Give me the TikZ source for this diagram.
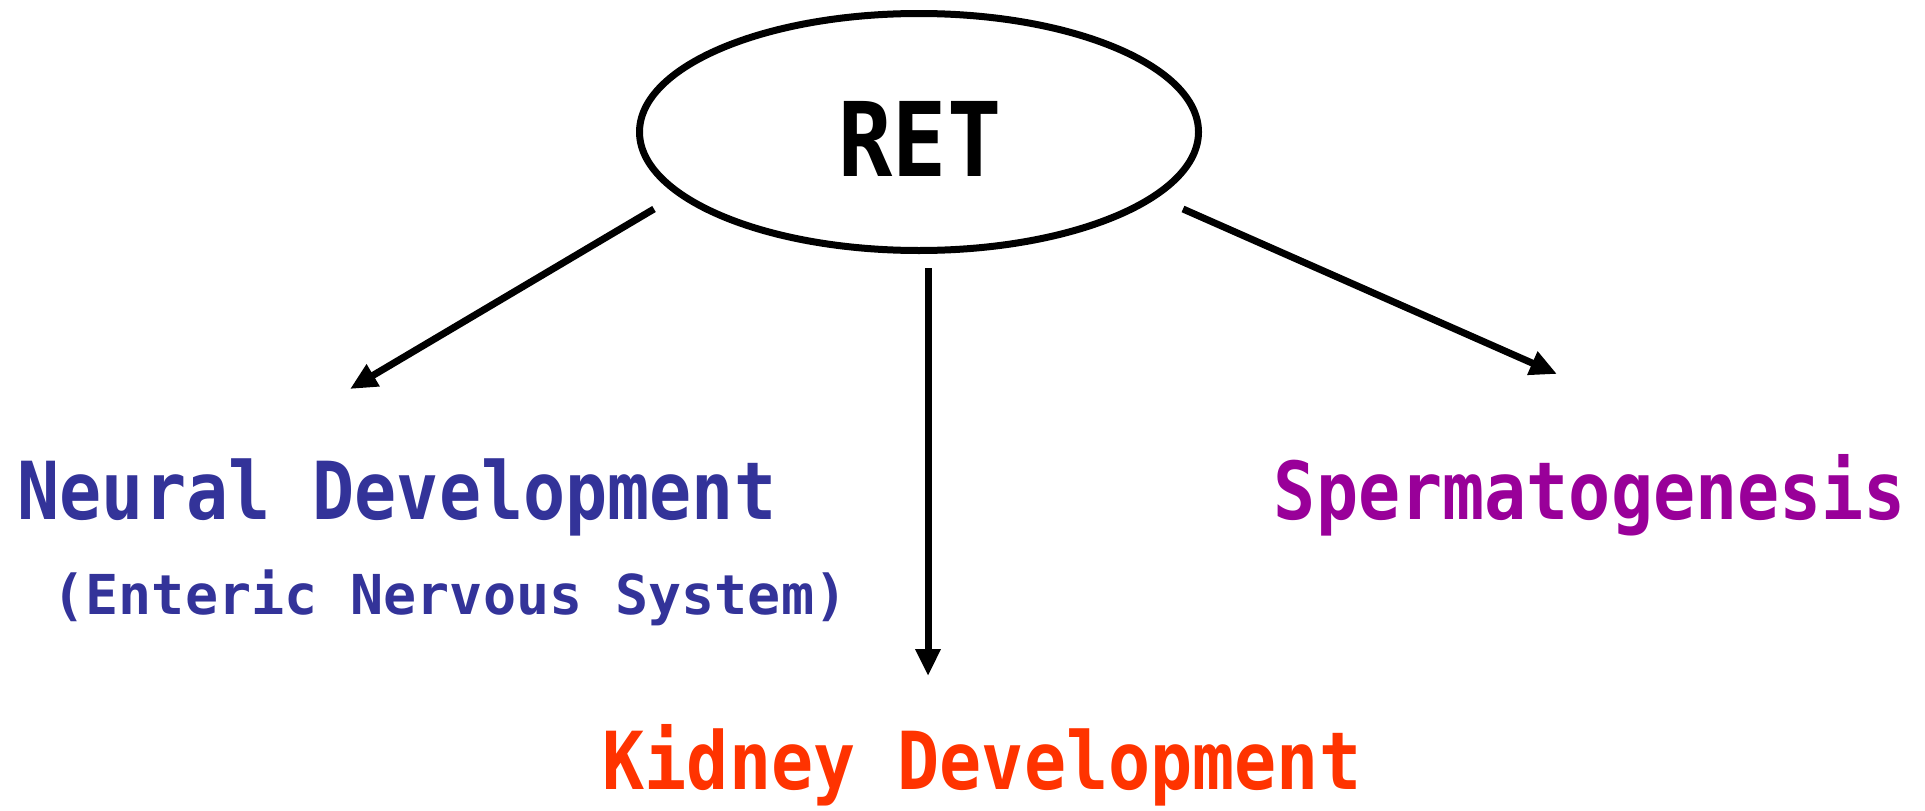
\documentclass[tikz,border=0pt]{standalone}
\usepackage{fontspec}
\usetikzlibrary{shapes.geometric,arrows.meta}
\newfontfamily\labfont[FakeStretch=0.875]{DejaVu Sans Mono}
\newfontfamily\subfont{DejaVu Sans Mono}
\definecolor{neuralblue}{HTML}{333399}
\definecolor{spermpurple}{HTML}{990099}
\definecolor{kidneyred}{HTML}{FF3300}
\begin{document}
\begin{tikzpicture}[x=1pt,y=-1pt,
  conn/.style={line width=7pt,-{Triangle[length=27pt,width=24pt]}},
  bigtxt/.style={font=\labfont\bfseries\fontsize{80}{80}\selectfont,inner sep=0pt,anchor=base},
  smalltxt/.style={font=\subfont\bfseries\fontsize{55}{55}\selectfont,inner sep=0pt,anchor=base}]
\useasboundingbox[fill=white] (0,0) rectangle (1925,811);
\node[ellipse,draw,line width=7pt,minimum width=559pt,minimum height=237pt,inner sep=0pt] (ret) at (919,132) {};
\node[font=\labfont\bfseries\fontsize{103}{103}\selectfont,inner sep=0pt,anchor=base] (rettxt) at (920,176) {RET};
\node[bigtxt,text=neuralblue] (neural) at (397,519) {Neural Development};
\node[smalltxt,text=neuralblue] (ens) at (450,614) {(Enteric Nervous System)};
\node[bigtxt,text=spermpurple] (sperm) at (1590,519) {Spermatogenesis};
\node[bigtxt,text=kidneyred] (kidney) at (982,789) {Kidney Development};
\coordinate (ls) at (654,209);
\coordinate (le) at (350,389);
\coordinate (ms) at (928,268);
\coordinate (me) at (928,676);
\coordinate (rs) at (1183,209);
\coordinate (re) at (1557,374);
\draw[conn] (ls) -- (le);
\draw[conn] (ms) -- (me);
\draw[conn] (rs) -- (re);
\end{tikzpicture}
\end{document}
